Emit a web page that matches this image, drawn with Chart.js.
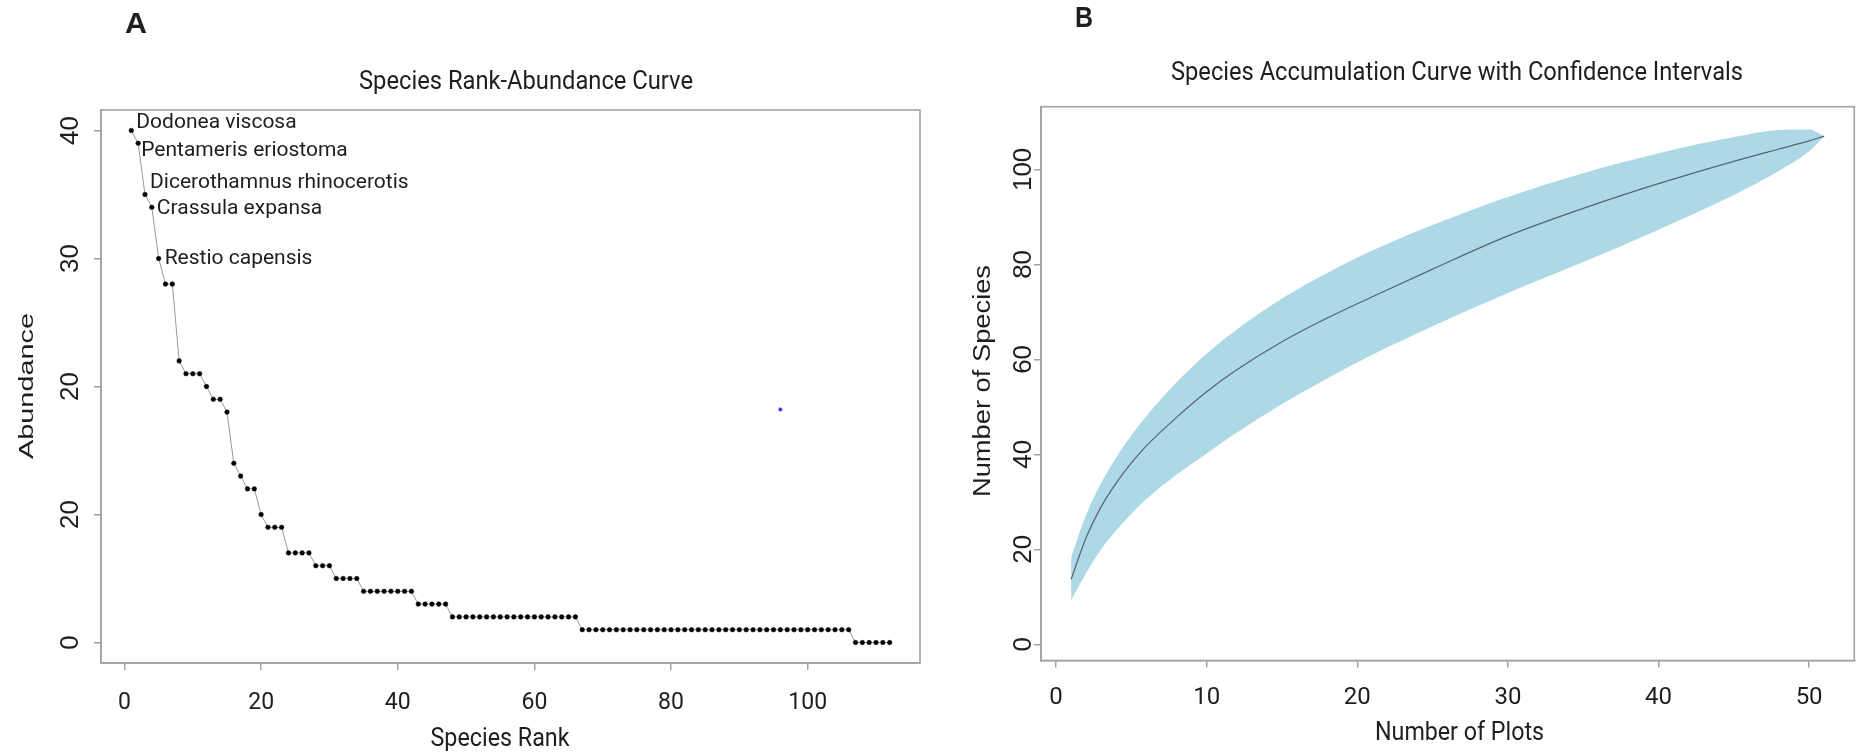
<!DOCTYPE html>
<html>
<head>
<meta charset="utf-8">
<script src="https://cdn.jsdelivr.net/npm/chart.js@4.4.1/dist/chart.umd.min.js"></script>
<style>
  html, body { margin: 0; padding: 0; background: #fff; }
  #wrap { position: relative; width: 1862px; height: 755px; overflow: hidden; }
  canvas { position: absolute; top: 0; }
  #chartA { left: 0; }
  #chartB { left: 931px; }
</style>
</head>
<body>
<div id="wrap">
  <canvas id="chartA" width="931" height="755"></canvas>
  <canvas id="chartB" width="931" height="755"></canvas>
</div>
<script>
// ---- panel A : species rank-abundance ----
const speciesRank = [1, 2, 3, 4, 5, 6, 7, 8, 9, 10, 11, 12, 13, 14, 15, 16, 17, 18, 19, 20,
  21, 22, 23, 24, 25, 26, 27, 28, 29, 30, 31, 32, 33, 34, 35, 36, 37, 38, 39, 40,
  41, 42, 43, 44, 45, 46, 47, 48, 49, 50, 51, 52, 53, 54, 55, 56, 57, 58, 59, 60,
  61, 62, 63, 64, 65, 66, 67, 68, 69, 70, 71, 72, 73, 74, 75, 76, 77, 78, 79, 80,
  81, 82, 83, 84, 85, 86, 87, 88, 89, 90, 91, 92, 93, 94, 95, 96, 97, 98, 99, 100,
  101, 102, 103, 104, 105, 106, 107, 108, 109, 110, 111, 112];
const abundance = [40, 39, 35, 34, 30, 28, 28, 22, 21, 21, 21, 20, 19, 19, 18, 14, 13, 12, 12, 10,
  9, 9, 9, 7, 7, 7, 7, 6, 6, 6, 5, 5, 5, 5, 4, 4, 4, 4, 4, 4,
  4, 4, 3, 3, 3, 3, 3, 2, 2, 2, 2, 2, 2, 2, 2, 2, 2, 2, 2, 2,
  2, 2, 2, 2, 2, 2, 1, 1, 1, 1, 1, 1, 1, 1, 1, 1, 1, 1, 1, 1,
  1, 1, 1, 1, 1, 1, 1, 1, 1, 1, 1, 1, 1, 1, 1, 1, 1, 1, 1, 1,
  1, 1, 1, 1, 1, 1, 0, 0, 0, 0, 0, 0];
const topSpecies = ["Dodonea viscosa", "Pentameris eriostoma", "Dicerothamnus rhinocerotis",
  "Crassula expansa", "Restio capensis"];
const strayRank = [96];
const strayValue = [18.2];
const xTicksA = [0, 20, 40, 60, 80, 100];
const yTicksA = [0, 10, 20, 30, 40];
const yTickLabelsA = ["0", "20", "20", "30", "40"];

// ---- panel B : species accumulation ----
const plots = [1, 2, 3, 4, 5, 6, 8, 10, 12, 15, 18, 21, 25, 30, 35, 40, 45, 48, 50, 51];
const richness = [13.7, 22.5, 29, 34, 38.2, 41.8, 47.8, 53.2, 57.8, 63.7, 68.7, 73.2, 79, 86, 91.8, 97, 101.7, 104.3, 106, 107];
const upperCI = [18.4, 27.3, 34, 39.4, 44, 48.1, 55.2, 61.2, 66.3, 72.8, 78.2, 82.9, 88.3, 94.2, 99.2, 103.4, 106.8, 108.3, 108.4, 107];
const lowerCI = [9.3, 15, 20, 24, 27.5, 30.6, 35.7, 40.2, 44.6, 50.6, 56, 61, 67, 74, 80.5, 87.3, 94.6, 99.7, 103.8, 107];
const xTicksB = [0, 10, 20, 30, 40, 50];
const yTicksB = [0, 20, 40, 60, 80, 100];

const INK = "#1e1e1e";
const FRAME = "#a2a2a2";
const ROT = -Math.PI / 2;

// draws text, squeezed or stretched to a given width when asked
function drawText(ctx, s, x, y, o) {
  ctx.save();
  ctx.font = (o.weight || "normal") + " " + o.size + "px " + (o.family || "Roboto");
  ctx.fillStyle = o.color || INK;
  ctx.textBaseline = "alphabetic";
  ctx.translate(x, y);
  if (o.rot) ctx.rotate(o.rot);
  const natural = ctx.measureText(s).width;
  const sx = o.width ? o.width / natural : 1;
  ctx.scale(sx, 1);
  ctx.textAlign = o.align || "left";
  ctx.fillText(s, 0, 0);
  ctx.restore();
}

function frame(ctx, area) {
  ctx.save();
  ctx.strokeStyle = FRAME;
  ctx.lineWidth = 1.6;
  ctx.strokeRect(area.left, area.top, area.right - area.left, area.bottom - area.top);
  ctx.restore();
}

function axisStyle(tickValues, fitSize, isX, min, max) {
  return {
    type: "linear",
    min: min,
    max: max,
    afterBuildTicks: (scale) => { scale.ticks = tickValues.map((v) => ({ value: v })); },
    afterFit: (scale) => { if (isX) scale.height = fitSize; else scale.width = fitSize; },
    ticks: { display: false },
    grid: { drawOnChartArea: false, drawTicks: true, tickLength: 7, color: FRAME, lineWidth: 1.5 },
    border: { display: true, color: FRAME, width: 1.6 },
  };
}

// label offsets next to the top five points (pixels)
const labelShift = [[5, -2], [3, 13], [5, -6], [5, 7], [6, 6]];

const panelAText = {
  id: "panelAText",
  afterDraw(chart) {
    const { ctx, chartArea, scales } = chart;
    frame(ctx, chartArea);
    yTicksA.forEach((v, i) => {
      drawText(ctx, yTickLabelsA[i], 78, scales.y.getPixelForValue(v),
        { size: 26, family: "'Liberation Sans'", rot: ROT, align: "center" });
    });
    xTicksA.forEach((v) => {
      drawText(ctx, String(v), scales.x.getPixelForValue(v), 709, { size: 23, align: "center" });
    });
    topSpecies.forEach((name, i) => {
      const px = scales.x.getPixelForValue(speciesRank[i]) + labelShift[i][0];
      const py = scales.y.getPixelForValue(abundance[i]) + labelShift[i][1];
      drawText(ctx, name, px, py, { size: 21 });
    });
    drawText(ctx, "A", 125, 33, { size: 30, weight: "bold", family: "'Liberation Sans'", width: 22 });
    drawText(ctx, "Species Rank-Abundance Curve", 359, 89, { size: 25, width: 334 });
    drawText(ctx, "Abundance", 33, 386, { size: 21, family: "'Liberation Sans'", rot: ROT, align: "center", width: 146 });
    drawText(ctx, "Species Rank", 500, 746, { size: 25, align: "center", width: 139 });
  },
};

const OFF = 931; // left edge of canvas B on the page
const panelBText = {
  id: "panelBText",
  afterDraw(chart) {
    const { ctx, chartArea, scales } = chart;
    frame(ctx, chartArea);
    yTicksB.forEach((v) => {
      drawText(ctx, String(v), 1031 - OFF, scales.y.getPixelForValue(v),
        { size: 26, family: "'Liberation Sans'", rot: ROT, align: "center" });
    });
    xTicksB.forEach((v) => {
      drawText(ctx, String(v), scales.x.getPixelForValue(v), 704, { size: 24, align: "center" });
    });
    drawText(ctx, "B", 1075 - OFF, 27, { size: 30, weight: "bold", family: "'Liberation Sans'", width: 18 });
    drawText(ctx, "Species Accumulation Curve with Confidence Intervals", 1171 - OFF, 80, { size: 25, width: 572 });
    drawText(ctx, "Number of Species", 990 - OFF, 381, { size: 23, family: "'Liberation Sans'", rot: ROT, align: "center", width: 232 });
    drawText(ctx, "Number of Plots", 1375 - OFF, 740, { size: 25, width: 169 });
  },
};

const common = {
  responsive: false,
  animation: false,
  devicePixelRatio: 1,
  events: [],
  plugins: { legend: { display: false }, tooltip: { enabled: false }, title: { display: false } },
};

new Chart(document.getElementById("chartA"), {
  type: "scatter",
  data: {
    datasets: [
      {
        data: speciesRank.map((r, i) => ({ x: r, y: abundance[i] })),
        showLine: true,
        borderColor: "#9a9a9a",
        borderWidth: 1,
        pointRadius: 2.3,
        pointBackgroundColor: "#000",
        pointBorderColor: "#000",
        pointBorderWidth: 0.5,
      },
      {
        data: strayRank.map((r, i) => ({ x: r, y: strayValue[i] })),
        pointRadius: 1.8,
        pointBackgroundColor: "#3a3aff",
        pointBorderColor: "#3a3aff",
        pointBorderWidth: 0.5,
      },
    ],
  },
  options: {
    ...common,
    layout: { padding: { left: 0, right: 11, top: 110, bottom: 0 } },
    scales: {
      x: axisStyle(xTicksA, 92, true, -3.44, 116.44),
      y: axisStyle(yTicksA, 101, false, -1.6, 41.6),
    },
  },
  plugins: [panelAText],
});

new Chart(document.getElementById("chartB"), {
  type: "line",
  data: {
    datasets: [
      {
        data: plots.map((p, i) => ({ x: p, y: richness[i] })),
        borderColor: "#56646b",
        borderWidth: 1.2,
        pointRadius: 0,
        cubicInterpolationMode: "monotone",
        fill: false,
        order: 0,
      },
      {
        data: plots.map((p, i) => ({ x: p, y: upperCI[i] })),
        borderWidth: 0,
        borderColor: "rgba(0,0,0,0)",
        pointRadius: 0,
        cubicInterpolationMode: "monotone",
        fill: false,
        order: 1,
      },
      {
        data: plots.map((p, i) => ({ x: p, y: lowerCI[i] })),
        borderWidth: 0,
        borderColor: "rgba(0,0,0,0)",
        backgroundColor: "#add8e6",
        pointRadius: 0,
        cubicInterpolationMode: "monotone",
        fill: "-1",
        order: 2,
      },
    ],
  },
  options: {
    ...common,
    layout: { padding: { left: 0, right: 7.7, top: 106.7, bottom: 0 } },
    scales: {
      x: axisStyle(xTicksB, 94.5, true, -1, 53),
      y: axisStyle(yTicksB, 110, false, -3.4, 113.2),
    },
  },
  plugins: [panelBText],
});
</script>
</body>
</html>
